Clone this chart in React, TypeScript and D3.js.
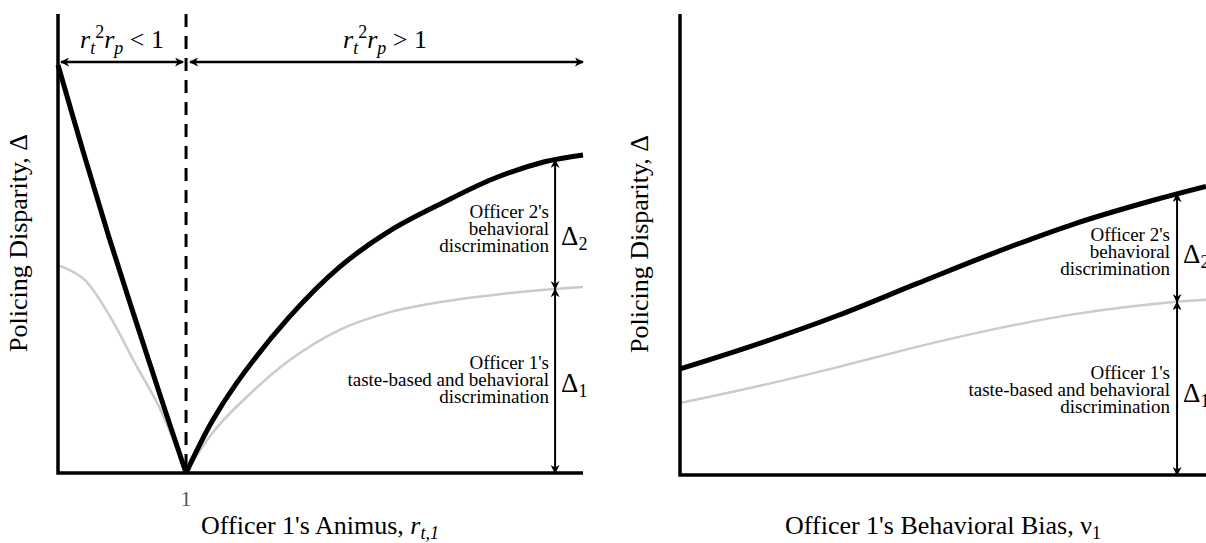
import * as d3 from 'd3';
import React from 'react';

// left panel: disparity against officer 1's animus
const animus = [0.5, 0.6, 0.7, 0.8, 0.9, 1.0, 1.1, 1.2, 1.4, 1.6, 1.8, 2.0, 2.2, 2.4, 2.55];
const totalByAnimus = [0.889, 0.697, 0.512, 0.338, 0.167, 0, 0.111, 0.198, 0.338, 0.449, 0.529, 0.588, 0.641, 0.678, 0.693];
const officer1ByAnimus = [0.453, 0.423, 0.344, 0.24, 0.138, 0, 0.085, 0.146, 0.244, 0.312, 0.351, 0.373, 0.388, 0.399, 0.405];

// right panel: disparity against officer 1's behavioral bias
const bias = [0, 0.15, 0.3, 0.45, 0.6, 0.75, 0.9, 1];
const totalByBias = [0.23, 0.285, 0.346, 0.415, 0.483, 0.545, 0.596, 0.626];
const officer1ByBias = [0.156, 0.193, 0.234, 0.278, 0.317, 0.349, 0.371, 0.38];

const officer2Lines = ["Officer 2's", 'behavioral', 'discrimination'];
const officer1Lines = ["Officer 1's", 'taste-based and behavioral', 'discrimination'];

const FONT = '"Liberation Serif", "Times New Roman", serif';

function interp(xs: number[], ys: number[], x: number) {
  const i = Math.max(1, d3.bisectLeft(xs, x));
  const t = (x - xs[i - 1]) / (xs[i] - xs[i - 1]);
  return ys[i - 1] + t * (ys[i] - ys[i - 1]);
}

// two stacked double arrows with their text blocks and delta labels
function Brackets({ x, yTop, yMid, yBot, textRight, top2, top1, delta2, delta1 }) {
  return (
    <g fontFamily={FONT}>
      <line x1={x} x2={x} y1={yTop} y2={yMid} stroke="#000" strokeWidth={2}
        markerStart="url(#arrowS)" markerEnd="url(#arrowS)" />
      <line x1={x} x2={x} y1={yMid} y2={yBot} stroke="#000" strokeWidth={2}
        markerStart="url(#arrowS)" markerEnd="url(#arrowS)" />
      {officer2Lines.map((l, i) => (
        <text key={'a' + i} x={textRight} y={top2 + i * 17} textAnchor="end" fontSize={19}>{l}</text>
      ))}
      {officer1Lines.map((l, i) => (
        <text key={'b' + i} x={textRight} y={top1 + i * 17} textAnchor="end" fontSize={19}>{l}</text>
      ))}
      <text x={x + 6} y={delta2} fontSize={27}>
        Δ<tspan fontSize={18} dy={5}>2</tspan>
      </text>
      <text x={x + 6} y={delta1} fontSize={27}>
        Δ<tspan fontSize={18} dy={5}>1</tspan>
      </text>
    </g>
  );
}

function RLabel({ x, y, op }) {
  return (
    <text x={x} y={y} textAnchor="middle" fontSize={26} fontFamily={FONT}>
      <tspan fontStyle="italic">r</tspan>
      <tspan fontStyle="italic" fontSize={18} dy={6}>t</tspan>
      <tspan fontSize={18} dy={-16}>2</tspan>
      <tspan fontStyle="italic" dy={10}>r</tspan>
      <tspan fontStyle="italic" fontSize={18} dy={6}>p</tspan>
      <tspan dy={-6}>{' ' + op + ' 1'}</tspan>
    </text>
  );
}

export default function App() {
  const xL = d3.scaleLinear().domain([0.5, 2.55]).range([58, 583]);
  const yL = d3.scaleLinear().domain([0, 1]).range([473, 14]);
  const xR = d3.scaleLinear().domain([0, 1]).range([680, 1206]);
  const yR = d3.scaleLinear().domain([0, 1]).range([475, 14]);

  const smooth = d3.curveCatmullRom.alpha(0.5);
  const lineL = d3.line<number[]>().x((d) => xL(d[0])).y((d) => yL(d[1])).curve(smooth);
  const lineR = d3.line<number[]>().x((d) => xR(d[0])).y((d) => yR(d[1])).curve(smooth);
  // the V has a kink at animus = 1, so each side is its own path
  const branch = (ys: number[], left: boolean) =>
    animus.map((a, i) => [a, ys[i]]).filter((p) => (left ? p[0] <= 1 : p[0] >= 1));

  const arrowL = 2.441;
  const arrowR = 0.945;

  return (
    <svg width={1206} height={543} style={{ position: 'absolute', left: 0, top: 0, background: '#fff' }}>
      <defs>
        <marker id="arrowS" viewBox="0 0 10 10" refX={9} refY={5} markerWidth={9} markerHeight={9}
          markerUnits="userSpaceOnUse" orient="auto-start-reverse">
          <path d="M0,0 L10,5 L0,10 L3,5 z" fill="#000" />
        </marker>
      </defs>

      {/* left panel */}
      <line x1={xL(1)} x2={xL(1)} y1={yL(1)} y2={yL(0)} stroke="#000" strokeWidth={3} strokeDasharray="13,9" />
      <path d={lineL(branch(officer1ByAnimus, true))} fill="none" stroke="#cbcbcb" strokeWidth={2.5} />
      <path d={lineL(branch(officer1ByAnimus, false))} fill="none" stroke="#cbcbcb" strokeWidth={2.5} />
      <path d={lineL(branch(totalByAnimus, true))} fill="none" stroke="#000" strokeWidth={5} />
      <path d={lineL(branch(totalByAnimus, false))} fill="none" stroke="#000" strokeWidth={5} />
      <path d={`M${xL(0.5)},${yL(1)}V${yL(0)}H${xL(2.55)}`} fill="none" stroke="#000" strokeWidth={3.5} />

      <line x1={xL(0.5) + 3} x2={xL(1) - 3} y1={62} y2={62} stroke="#000" strokeWidth={2.5}
        markerStart="url(#arrowS)" markerEnd="url(#arrowS)" />
      <line x1={xL(1) + 4} x2={xL(2.55)} y1={62} y2={62} stroke="#000" strokeWidth={2.5}
        markerStart="url(#arrowS)" markerEnd="url(#arrowS)" />
      <RLabel x={122} y={48} op="<" />
      <RLabel x={385} y={48} op=">" />

      <Brackets x={xL(arrowL)}
        yTop={yL(interp(animus.slice(5), totalByAnimus.slice(5), arrowL))}
        yMid={yL(interp(animus.slice(5), officer1ByAnimus.slice(5), arrowL))}
        yBot={yL(0)} textRight={549} top2={218} top1={369} delta2={245} delta1={392} />

      <text x={xL(1)} y={506} textAnchor="middle" fontSize={21} fill="#555" fontFamily={FONT}>1</text>
      <text x={320} y={534} textAnchor="middle" fontSize={26} fontFamily={FONT}>
        Officer 1's Animus, <tspan fontStyle="italic">r</tspan>
        <tspan fontStyle="italic" fontSize={18} dy={5}>t,1</tspan>
      </text>
      <text transform="translate(27,243) rotate(-90)" textAnchor="middle" fontSize={26} fontFamily={FONT}>
        Policing Disparity, Δ
      </text>

      {/* right panel */}
      <path d={lineR(bias.map((b, i) => [b, officer1ByBias[i]]))} fill="none" stroke="#cbcbcb" strokeWidth={2.5} />
      <path d={lineR(bias.map((b, i) => [b, totalByBias[i]]))} fill="none" stroke="#000" strokeWidth={5} />
      <path d={`M${xR(0)},${yR(1)}V${yR(0)}H${xR(1)}`} fill="none" stroke="#000" strokeWidth={3.5} />

      <Brackets x={xR(arrowR)}
        yTop={yR(interp(bias, totalByBias, arrowR))}
        yMid={yR(interp(bias, officer1ByBias, arrowR))}
        yBot={yR(0)} textRight={1170} top2={241} top1={379} delta2={263} delta1={402} />

      <text x={943} y={534} textAnchor="middle" fontSize={26} fontFamily={FONT}>
        Officer 1's Behavioral Bias, ν<tspan fontSize={18} dy={5}>1</tspan>
      </text>
      <text transform="translate(648,244) rotate(-90)" textAnchor="middle" fontSize={26} fontFamily={FONT}>
        Policing Disparity, Δ
      </text>
    </svg>
  );
}
